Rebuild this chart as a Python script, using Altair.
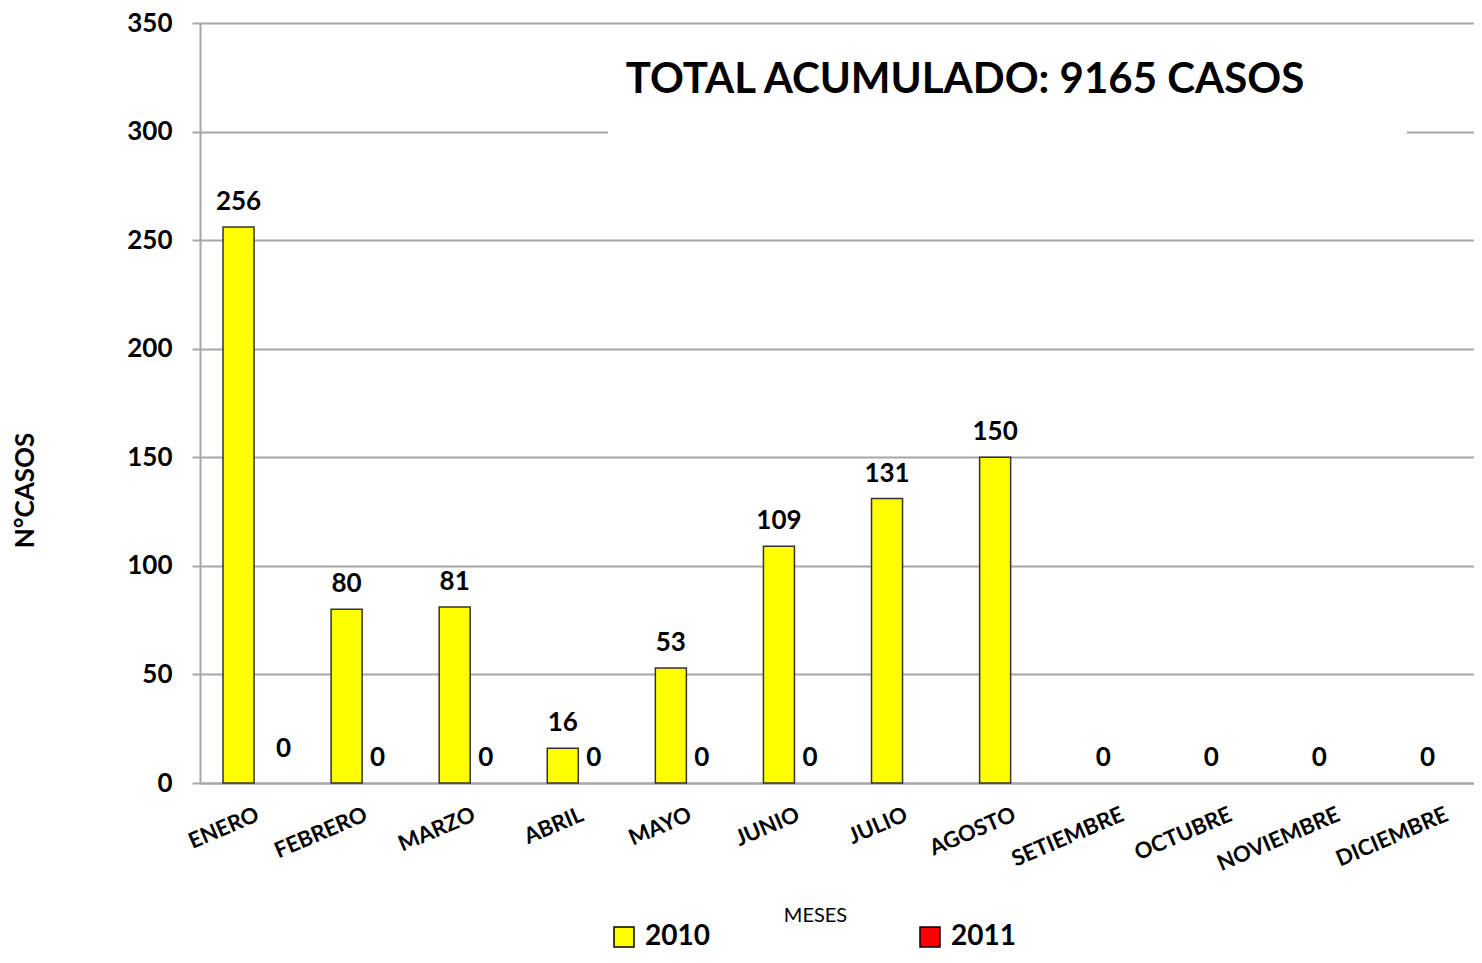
import altair as alt
import pandas as pd

months = ["ENERO", "FEBRERO", "MARZO", "ABRIL", "MAYO", "JUNIO", "JULIO",
          "AGOSTO", "SETIEMBRE", "OCTUBRE", "NOVIEMBRE", "DICIEMBRE"]
years = ["2010", "2011"]
cases_2010 = [256, 80, 81, 16, 53, 109, 131, 150, 0, 0, 0, 0]
cases_2011 = [0, 0, 0, 0, 0, 0, None, None, None, None, None, None]
y_ticks = [0, 50, 100, 150, 200, 250, 300, 350]
colors = ["#FFFF00", "#FF0000"]
title_text = "TOTAL ACUMULADO: 9165 CASOS"

rows = []
for m, a, b in zip(months, cases_2010, cases_2011):
    if a is not None:
        rows.append({"mes": m, "anio": "2010", "casos": a})
    if b is not None:
        rows.append({"mes": m, "anio": "2011", "casos": b})
df = pd.DataFrame(rows)

FONT = "Lato"
GRID = "#A6A6A6"

x_enc = alt.X("mes:N", sort=months,
              scale=alt.Scale(range=[0, 1297], paddingInner=0.426, paddingOuter=0.213),
              axis=alt.Axis(title="MESES", labelAngle=-23, labelAlign="right",
                            labelBaseline="top", labelPadding=21, ticks=False,
                            labelFont=FONT, labelFontWeight="bold", labelFontSize=22,
                            labelColor="black", domainColor=GRID, domainWidth=2,
                            titleFont=FONT, titleFontWeight="normal", titleFontSize=20,
                            titleColor="black", titleX=615, titleY=132,
                            titleBaseline="middle", titleAlign="center",
                            labelOverlap=False, labelBound=False))
xo_enc = alt.XOffset("anio:N", scale=alt.Scale(domain=years, paddingInner=0, paddingOuter=0))
y_enc = alt.Y("casos:Q", scale=alt.Scale(domain=[0, 350]),
              axis=alt.Axis(title="N°CASOS", values=y_ticks, grid=True,
                            gridColor=GRID, gridWidth=2, tickColor=GRID, tickWidth=2,
                            tickSize=8, domainColor=GRID, domainWidth=2,
                            labelFont=FONT, labelFontWeight="bold", labelFontSize=26,
                            labelColor="black", labelPadding=20,
                            titleFont=FONT, titleFontWeight="bold", titleFontSize=26,
                            titleColor="black", titleX=-175, titleY=467,
                            titleAngle=-90, titleAlign="center", titleBaseline="middle"))

base = alt.Chart(df)

mask = alt.Chart(pd.DataFrame({"k": [1]})).mark_rect(color="white").encode(
    x=alt.value(408), x2=alt.value(1207), y=alt.value(89), y2=alt.value(119))

bars = base.mark_bar(stroke="#333333", strokeWidth=1.5).encode(
    x=x_enc, xOffset=xo_enc, y=y_enc,
    color=alt.Color("anio:N", scale=alt.Scale(domain=years, range=colors),
                    legend=alt.Legend(orient="none", legendX=410, legendY=900,
                                      direction="horizontal", title=None,
                                      symbolType="square", symbolSize=400,
                                      symbolStrokeColor="black", symbolStrokeWidth=1.5,
                                      labelFont=FONT, labelFontWeight="bold",
                                      labelFontSize=28, labelColor="black",
                                      labelOffset=7, columnPadding=206))
).transform_filter(alt.datum.casos > 0)

txt_style = dict(baseline="alphabetic", dy=-17, font=FONT, fontWeight="bold",
                 fontSize=26, color="black")

labels = base.mark_text(**txt_style).encode(
    x=x_enc, xOffset=xo_enc, y=y_enc, text="casos:Q"
).transform_filter("!(datum.anio == '2011' && datum.mes == 'ENERO')")

labels_enero = base.mark_text(**{**txt_style, "dy": -26, "dx": 14}).encode(
    x=x_enc, xOffset=xo_enc, y=y_enc, text="casos:Q"
).transform_filter("datum.anio == '2011' && datum.mes == 'ENERO'")

title = alt.Chart(pd.DataFrame({"t": [title_text]})).mark_text(
    font=FONT, fontWeight="bold", fontSize=42, color="black",
    align="center", baseline="middle"
).encode(x=alt.value(765), y=alt.value(57), text="t:N")

chart = alt.layer(mask, bars, labels, labels_enero, title).properties(
    width=1274, height=760,
    padding={"left": 192, "top": 15, "right": 0, "bottom": 172},
    autosize=alt.AutoSizeParams(type="none")
).configure_view(stroke=None).configure(background="white")

chart.save("out.html", embed_options={"renderer": "svg", "actions": False})
